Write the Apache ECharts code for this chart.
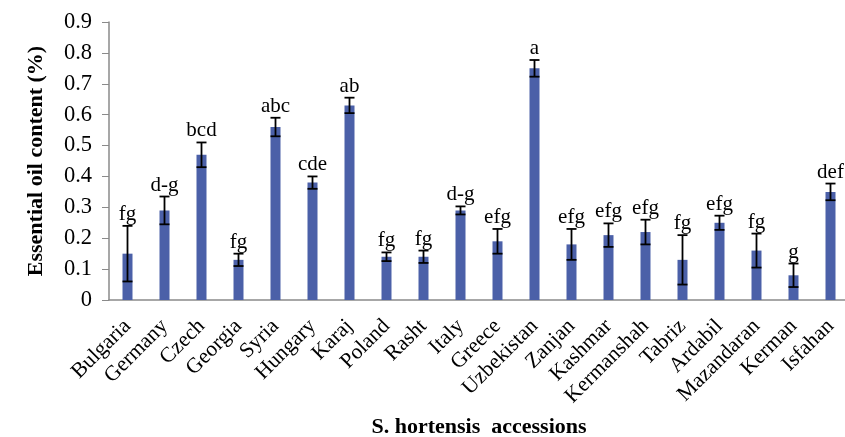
<!DOCTYPE html>
<html>
<head>
<meta charset="utf-8">
<script src="https://cdn.jsdelivr.net/npm/echarts@6/dist/echarts.min.js"></script>
<style>
  html, body { margin: 0; padding: 0; background: #fff; }
  #chart { width: 845px; height: 437px; }
</style>
</head>
<body>
<div id="chart"></div>
<script>
// Essential oil content of S. hortensis accessions, mean ± SE with Duncan groups
const accessions = ['Bulgaria', 'Germany', 'Czech', 'Georgia', 'Syria', 'Hungary', 'Karaj', 'Poland', 'Rasht', 'Italy',
  'Greece', 'Uzbekistan', 'Zanjan', 'Kashmar', 'Kermanshah', 'Tabriz', 'Ardabil', 'Mazandaran', 'Kerman', 'Isfahan'];
const oilContent = [0.15, 0.29, 0.47, 0.13, 0.56, 0.38, 0.63, 0.14, 0.14, 0.29,
  0.19, 0.75, 0.18, 0.21, 0.22, 0.13, 0.25, 0.16, 0.08, 0.35];
const stdError = [0.09, 0.045, 0.04, 0.02, 0.03, 0.02, 0.025, 0.014, 0.02, 0.013,
  0.04, 0.027, 0.05, 0.038, 0.04, 0.08, 0.023, 0.055, 0.038, 0.027];
const groups = ['fg', 'd-g', 'bcd', 'fg', 'abc', 'cde', 'ab', 'fg', 'fg', 'd-g',
  'efg', 'a', 'efg', 'efg', 'efg', 'fg', 'efg', 'fg', 'g', 'def'];
const yTicks = [0, 0.1, 0.2, 0.3, 0.4, 0.5, 0.6, 0.7, 0.8, 0.9];

const serif = 'Liberation Serif';
const chart = echarts.init(document.getElementById('chart'), null, { renderer: 'canvas' });

const errData = accessions.map((c, i) => [i, oilContent[i] - stdError[i], oilContent[i] + stdError[i]]);

chart.setOption({
  animation: false,
  backgroundColor: '#ffffff',
  grid: { left: 109, right: -4, top: 22, bottom: 137, outerBoundsMode: 'none' },
  xAxis: {
    type: 'category',
    data: accessions,
    name: 'S. hortensis  accessions',
    nameLocation: 'middle',
    nameGap: 116,
    nameTextStyle: { fontFamily: serif, fontWeight: 'bold', fontSize: 22, color: '#000' },
    axisLine: { lineStyle: { color: '#8a8a8a', width: 1.5 } },
    axisTick: { show: false },
    axisLabel: { rotate: 45, fontFamily: serif, fontSize: 21.5, color: '#000', margin: 23, interval: 0 }
  },
  yAxis: {
    type: 'value',
    min: 0,
    max: 0.9,
    interval: 0.1,
    name: 'Essential oil content (%)',
    nameLocation: 'middle',
    nameRotate: 90,
    nameGap: 62,
    nameTextStyle: { fontFamily: serif, fontWeight: 'bold', fontSize: 22, color: '#000' },
    splitLine: { show: false },
    axisLine: { show: true, lineStyle: { color: '#8a8a8a', width: 1.5 } },
    axisTick: { show: true, inside: false, length: 7, lineStyle: { color: '#8a8a8a' } },
    axisLabel: {
      fontFamily: serif, fontSize: 22.5, color: '#000', margin: 17,
      formatter: v => {
        const t = yTicks.find(k => Math.abs(k - v) < 1e-9);
        return t === undefined ? '' : String(t);
      }
    }
  },
  series: [
    {
      type: 'bar',
      data: oilContent,
      barWidth: 10,
      itemStyle: { color: '#4b60a8' }
    },
    {
      type: 'custom',
      data: errData,
      z: 5,
      renderItem: (params, api) => {
        const x = api.coord([api.value(0), 0])[0];
        const lo = api.coord([api.value(0), api.value(1)])[1];
        const hi = api.coord([api.value(0), api.value(2)])[1];
        const cap = 5;
        const st = { stroke: '#000', lineWidth: 1.8 };
        return {
          type: 'group',
          children: [
            { type: 'line', shape: { x1: x, y1: lo, x2: x, y2: hi }, style: st },
            { type: 'line', shape: { x1: x - cap, y1: hi, x2: x + cap, y2: hi }, style: st },
            { type: 'line', shape: { x1: x - cap, y1: lo, x2: x + cap, y2: lo }, style: st },
            {
              type: 'text',
              x: x,
              y: hi - 1,
              style: {
                text: groups[params.dataIndex],
                fontFamily: serif,
                fontSize: 21,
                fill: '#000',
                align: 'center',
                verticalAlign: 'bottom'
              }
            }
          ]
        };
      }
    }
  ]
});
</script>
</body>
</html>
